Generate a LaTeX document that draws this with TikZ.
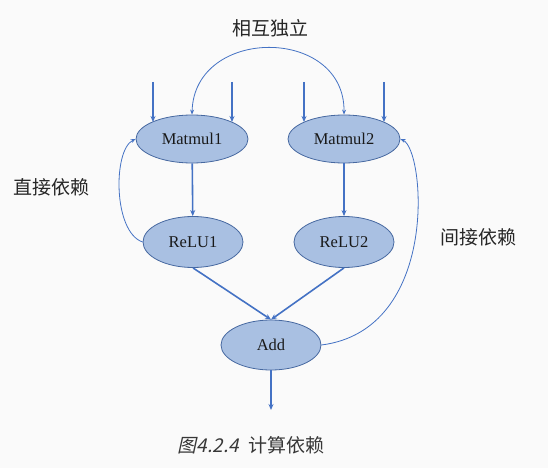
\documentclass[tikz,border=0pt]{standalone}
\usepackage{fontspec}
\setmainfont{Liberation Serif}
\newfontfamily\cjk{Noto Sans CJK SC}
\newfontfamily\cjkit[FakeSlant=0.22]{Noto Sans CJK SC}
\usetikzlibrary{shapes.geometric,arrows.meta}
\definecolor{bgc}{RGB}{250,250,250}
\definecolor{nodefill}{RGB}{169,192,226}
\definecolor{nodeline}{RGB}{70,104,160}
\definecolor{arrowc}{RGB}{68,114,196}
\definecolor{capc}{RGB}{55,55,55}
\tikzset{
  op/.style={ellipse, draw=nodeline, fill=nodefill, line width=0.8pt, text=black!90, font=\fontsize{16.5}{18}\selectfont},
  flow/.style={draw=arrowc, line width=1.6pt, -{Stealth[length=6pt,width=5pt]}},
  dep/.style={draw=arrowc, line width=0.8pt, -{Stealth[length=5pt,width=4pt]}},
  lbl/.style={font=\cjk\fontsize{19}{21}\selectfont, text=black!85}
}
\begin{document}
\begin{tikzpicture}[x=1pt,y=-1pt]
\useasboundingbox[fill=bgc] (0,0) rectangle (548,468);
\node[op, minimum width=112pt, minimum height=48pt] (m1) at (192,139) {Matmul1};
\node[op, minimum width=112pt, minimum height=48pt] (m2) at (344,139) {Matmul2};
\node[op, minimum width=100pt, minimum height=51pt] (r1) at (193,242) {ReLU1};
\node[op, minimum width=100pt, minimum height=51pt] (r2) at (344,242) {ReLU2};
\node[op, minimum width=100pt, minimum height=50pt] (add) at (271,345) {Add};
\coordinate (i1) at (153,82);
\coordinate (i2) at (232,82);
\coordinate (i3) at (304,82);
\coordinate (i4) at (384,82);
\coordinate (i1e) at (153,122);
\coordinate (i2e) at (232,122);
\coordinate (i3e) at (304,122);
\coordinate (i4e) at (384,122);
\coordinate (out) at (271,410);
\draw[flow] (i1) -- (i1e);
\draw[flow] (i2) -- (i2e);
\draw[flow] (i3) -- (i3e);
\draw[flow] (i4) -- (i4e);
\draw[flow] (m1) -- (r1);
\draw[flow] (m2) -- (r2);
\draw[flow] (r1.south) -- (add.north);
\draw[flow] (r2.south) -- (add.north);
\draw[flow] (add) -- (out);
\draw[dep, {Stealth[length=5pt,width=4pt]}-{Stealth[length=5pt,width=4pt]}] (m1.north) .. controls (194,26) and (345,26) .. (m2.north);
\draw[dep] (r1.west) .. controls (113,232) and (113,150) .. (m1.west);
\draw[dep] (add.east) .. controls (440,330) and (425,150) .. (m2.east);
\node[lbl] (t1) at (270,28) {相互独立};
\node[lbl] (t2) at (51,187) {直接依赖};
\node[lbl] (t3) at (478,237) {间接依赖};
\node[font=\fontsize{19}{21}\selectfont, text=capc] (cap) at (251,445) {{\cjkit 图4.2.4}\kern9pt{\cjk 计算依赖}};
\end{tikzpicture}
\end{document}
